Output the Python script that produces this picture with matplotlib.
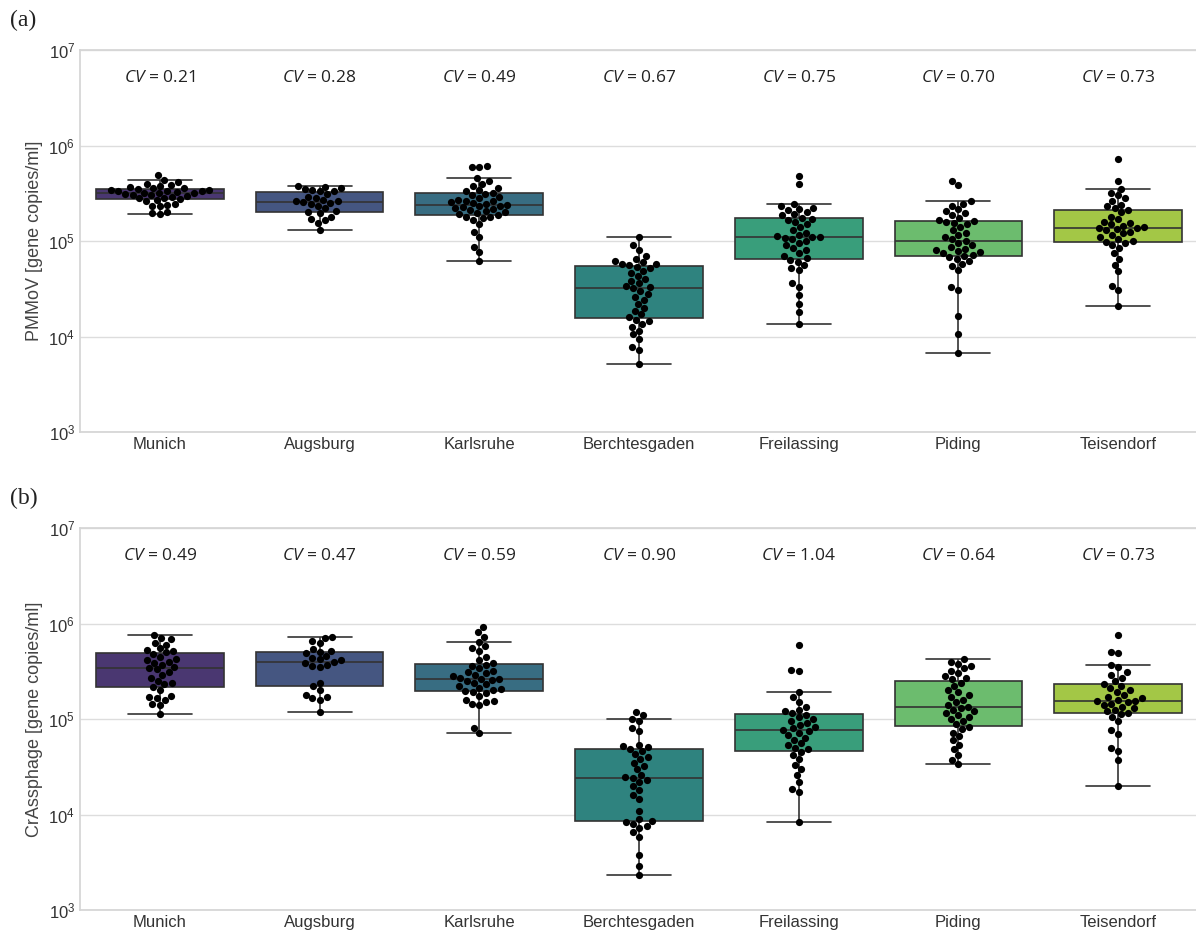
import matplotlib
matplotlib.use("Agg")
import matplotlib.pyplot as plt
import numpy as np
import pandas as pd
import seaborn as sns

cities = ['Munich', 'Augsburg', 'Karlsruhe', 'Berchtesgaden', 'Freilassing', 'Piding', 'Teisendorf']

# (a) PMMoV, gene copies/ml
pmmov_munich = [1.9e5, 1.95e5, 2.0e5, 2.3e5, 2.35e5, 2.4e5, 2.45e5, 2.6e5, 2.7e5, 2.75e5, 2.8e5, 2.85e5,
                2.9e5, 2.95e5, 3.0e5, 3.05e5, 3.1e5, 3.15e5, 3.2e5, 3.2e5, 3.25e5, 3.3e5, 3.3e5, 3.35e5,
                3.4e5, 3.45e5, 3.5e5, 3.55e5, 3.6e5, 3.7e5, 3.8e5, 3.9e5, 4.0e5, 4.1e5, 4.4e5, 4.9e5]
pmmov_augsburg = [1.31e5, 1.55e5, 1.65e5, 1.7e5, 1.8e5, 1.95e5, 2.0e5, 2.05e5, 2.2e5, 2.35e5, 2.45e5, 2.5e5,
                  2.55e5, 2.6e5, 2.65e5, 2.7e5, 2.8e5, 2.9e5, 3.1e5, 3.3e5, 3.35e5, 3.4e5, 3.5e5, 3.6e5,
                  3.7e5, 3.8e5]
pmmov_karlsruhe = [6.2e4, 7.6e4, 8.6e4, 1.1e5, 1.25e5, 1.5e5, 1.65e5, 1.75e5, 1.78e5, 1.8e5, 1.85e5, 1.9e5,
                   1.95e5, 2.0e5, 2.05e5, 2.1e5, 2.15e5, 2.2e5, 2.25e5, 2.3e5, 2.35e5, 2.4e5, 2.45e5, 2.5e5,
                   2.55e5, 2.6e5, 2.65e5, 2.7e5, 2.8e5, 2.9e5, 3.0e5, 3.1e5, 3.2e5, 3.3e5, 3.4e5, 3.6e5,
                   3.8e5, 4.0e5, 4.3e5, 4.55e5, 5.9e5, 6.0e5, 6.1e5]
pmmov_berchtesgaden = [5.1e3, 7.2e3, 7.8e3, 9.5e3, 1.05e4, 1.15e4, 1.25e4, 1.35e4, 1.45e4, 1.5e4, 1.6e4, 1.7e4,
                       1.85e4, 2.0e4, 2.2e4, 2.4e4, 2.6e4, 2.8e4, 3.0e4, 3.2e4, 3.3e4, 3.4e4, 3.6e4, 3.8e4,
                       4.0e4, 4.3e4, 4.6e4, 4.9e4, 5.2e4, 5.4e4, 5.6e4, 5.7e4, 5.8e4, 6.0e4, 6.2e4, 6.5e4,
                       7.0e4, 8.0e4, 9.0e4, 1.09e5]
pmmov_freilassing = [1.35e4, 1.8e4, 2.2e4, 2.7e4, 3.3e4, 3.6e4, 5.0e4, 5.2e4, 5.6e4, 6.0e4, 6.3e4, 6.6e4,
                     7.0e4, 7.5e4, 8.0e4, 8.5e4, 9.0e4, 9.6e4, 1.0e5, 1.04e5, 1.08e5, 1.1e5, 1.1e5, 1.12e5,
                     1.15e5, 1.2e5, 1.3e5, 1.4e5, 1.5e5, 1.6e5, 1.65e5, 1.7e5, 1.75e5, 1.85e5, 1.9e5, 2.0e5,
                     2.1e5, 2.15e5, 2.2e5, 2.3e5, 2.45e5, 3.95e5, 4.8e5]
pmmov_piding = [6.7e3, 1.05e4, 1.65e4, 3.1e4, 3.3e4, 5.0e4, 5.5e4, 5.8e4, 6.2e4, 6.5e4, 6.8e4, 7.0e4,
                7.2e4, 7.4e4, 7.6e4, 7.8e4, 8.0e4, 8.3e4, 8.6e4, 9.0e4, 9.5e4, 1.0e5, 1.05e5, 1.1e5,
                1.15e5, 1.2e5, 1.3e5, 1.4e5, 1.5e5, 1.55e5, 1.6e5, 1.62e5, 1.65e5, 1.75e5, 1.85e5, 1.95e5,
                2.05e5, 2.15e5, 2.3e5, 2.45e5, 2.6e5, 3.9e5, 4.3e5]
pmmov_teisendorf = [2.1e4, 3.1e4, 3.4e4, 4.8e4, 5.6e4, 6.5e4, 7.5e4, 8.5e4, 9.0e4, 9.5e4, 9.8e4, 1.0e5,
                    1.05e5, 1.1e5, 1.15e5, 1.2e5, 1.25e5, 1.3e5, 1.33e5, 1.36e5, 1.38e5, 1.4e5, 1.45e5, 1.5e5,
                    1.55e5, 1.6e5, 1.7e5, 1.8e5, 2.0e5, 2.1e5, 2.2e5, 2.3e5, 2.4e5, 2.6e5, 2.8e5, 3.0e5,
                    3.2e5, 3.5e5, 4.3e5, 7.2e5]

# (b) CrAssphage, gene copies/ml
crass_munich = [1.13e5, 1.4e5, 1.45e5, 1.6e5, 1.65e5, 1.7e5, 1.75e5, 2.0e5, 2.15e5, 2.3e5, 2.4e5, 2.5e5,
                2.7e5, 2.9e5, 3.1e5, 3.3e5, 3.4e5, 3.5e5, 3.7e5, 3.9e5, 4.0e5, 4.1e5, 4.3e5, 4.5e5,
                4.8e5, 5.0e5, 5.2e5, 5.3e5, 5.5e5, 6.0e5, 6.3e5, 6.8e5, 7.0e5, 7.6e5]
crass_augsburg = [1.17e5, 1.6e5, 1.65e5, 1.7e5, 1.8e5, 2.0e5, 2.2e5, 2.4e5, 3.5e5, 3.6e5, 3.7e5, 3.9e5,
                  4.0e5, 4.1e5, 4.2e5, 4.4e5, 4.6e5, 4.9e5, 5.0e5, 5.2e5, 5.4e5, 6.2e5, 6.5e5, 7.0e5, 7.3e5]
crass_karlsruhe = [7.1e4, 8.0e4, 1.4e5, 1.45e5, 1.5e5, 1.55e5, 1.6e5, 1.75e5, 1.85e5, 1.9e5, 1.97e5, 2.0e5,
                   2.05e5, 2.1e5, 2.2e5, 2.3e5, 2.4e5, 2.5e5, 2.55e5, 2.6e5, 2.63e5, 2.7e5, 2.8e5, 2.9e5,
                   3.0e5, 3.1e5, 3.2e5, 3.4e5, 3.6e5, 3.7e5, 3.9e5, 4.1e5, 4.5e5, 5.2e5, 5.5e5, 5.8e5,
                   6.4e5, 7.3e5, 8.1e5, 9.1e5]
crass_berchtesgaden = [2.35e3, 2.9e3, 3.8e3, 5.8e3, 6.5e3, 7.2e3, 7.6e3, 8.0e3, 8.3e3, 8.5e3, 9.0e3, 1.1e4,
                       1.45e4, 1.6e4, 1.8e4, 2.0e4, 2.2e4, 2.3e4, 2.4e4, 2.45e4, 2.6e4, 3.0e4, 3.2e4, 3.5e4,
                       3.8e4, 4.0e4, 4.3e4, 4.6e4, 4.9e4, 5.1e4, 5.2e4, 5.4e4, 7.5e4, 8.0e4, 9.5e4, 1.0e5,
                       1.1e5, 1.17e5]
crass_freilassing = [8.4e3, 1.7e4, 1.85e4, 2.2e4, 2.6e4, 3.0e4, 3.3e4, 3.8e4, 4.2e4, 4.5e4, 4.8e4, 5.0e4,
                     5.3e4, 5.6e4, 6.0e4, 6.4e4, 6.8e4, 7.2e4, 7.5e4, 7.7e4, 8.0e4, 8.3e4, 8.6e4, 9.0e4,
                     9.5e4, 1.0e5, 1.05e5, 1.1e5, 1.15e5, 1.2e5, 1.25e5, 1.35e5, 1.5e5, 1.7e5, 1.94e5, 3.15e5,
                     3.25e5, 6.0e5]
crass_piding = [3.4e4, 3.7e4, 4.2e4, 4.8e4, 5.4e4, 6.0e4, 6.6e4, 7.2e4, 7.8e4, 8.2e4, 8.8e4, 9.5e4,
                1.0e5, 1.05e5, 1.1e5, 1.15e5, 1.2e5, 1.25e5, 1.3e5, 1.34e5, 1.4e5, 1.5e5, 1.6e5, 1.7e5,
                1.8e5, 1.9e5, 2.0e5, 2.2e5, 2.4e5, 2.6e5, 2.7e5, 2.8e5, 3.0e5, 3.2e5, 3.4e5, 3.6e5,
                3.8e5, 4.0e5, 4.2e5]
crass_teisendorf = [2.0e4, 3.7e4, 4.6e4, 5.0e4, 7.0e4, 7.6e4, 9.5e4, 1.05e5, 1.12e5, 1.16e5, 1.2e5, 1.25e5,
                    1.3e5, 1.35e5, 1.4e5, 1.45e5, 1.5e5, 1.55e5, 1.55e5, 1.6e5, 1.65e5, 1.7e5, 1.8e5, 1.9e5,
                    2.0e5, 2.1e5, 2.2e5, 2.3e5, 2.5e5, 2.7e5, 2.9e5, 3.1e5, 3.5e5, 3.7e5, 4.9e5, 5.05e5,
                    7.5e5]

cv_pmmov = ['0.21', '0.28', '0.49', '0.67', '0.75', '0.70', '0.73']
cv_crass = ['0.49', '0.47', '0.59', '0.90', '1.04', '0.64', '0.73']

pmmov = [pmmov_munich, pmmov_augsburg, pmmov_karlsruhe, pmmov_berchtesgaden,
         pmmov_freilassing, pmmov_piding, pmmov_teisendorf]
crass = [crass_munich, crass_augsburg, crass_karlsruhe, crass_berchtesgaden,
         crass_freilassing, crass_piding, crass_teisendorf]


def to_frame(groups):
    rows = []
    for city, vals in zip(cities, groups):
        for v in vals:
            rows.append((city, v))
    return pd.DataFrame(rows, columns=['site', 'value'])


sns.set_theme(style='whitegrid')
plt.rcParams['font.family'] = ['Liberation Sans', 'DejaVu Sans']
plt.rcParams['mathtext.fontset'] = 'custom'
plt.rcParams['mathtext.it'] = 'Open Sans:italic'
plt.rcParams['mathtext.rm'] = 'Liberation Sans'

fig = plt.figure(figsize=(11.96, 9.36), dpi=100)
ax_a = fig.add_axes([80 / 1196, 504 / 936, 1118 / 1196, 382 / 936])
ax_b = fig.add_axes([80 / 1196, 26 / 936, 1118 / 1196, 382 / 936])

palette = sns.color_palette('viridis', len(cities))

for ax, groups, cvs, ylabel, tag in [(ax_a, pmmov, cv_pmmov, 'PMMoV [gene copies/ml]', '(a)'),
                                     (ax_b, crass, cv_crass, 'CrAssphage [gene copies/ml]', '(b)')]:
    df = to_frame(groups)
    # box statistics on the linear values, axis switched to log afterwards
    sns.boxplot(data=df, x='site', y='value', hue='site', order=cities, hue_order=cities,
                palette=palette, legend=False, showfliers=False, linewidth=1.2,
                linecolor='#333333', ax=ax)
    ax.set_yscale('log')
    sns.swarmplot(data=df, x='site', y='value', order=cities, color='black', size=5.2, ax=ax)
    ax.set_ylim(1e3, 1e7)
    ax.set_xlim(-0.5, 6.5)
    ax.set_xlabel('')
    ax.set_ylabel(ylabel, fontsize=13, color='#444444')
    ax.tick_params(axis='both', labelsize=12, colors='#333333', length=0)
    ax.xaxis.grid(False)
    ax.yaxis.grid(True, color='#dddddd', linewidth=1)
    for s in ax.spines.values():
        s.set_color('#d5d5d5')
    for i, cv in enumerate(cvs):
        ax.text(i, 5.1e6, r'$\mathit{CV}$ = ' + cv, ha='center', va='center',
                fontsize=12.5, family=['Open Sans', 'DejaVu Sans'], color='#222222')
    bb = ax.get_position()
    fig.text(10 / 1196, bb.y1 + 30 / 936, tag, fontsize=17, family='Liberation Serif',
             ha='left', va='center', color='#222222')

fig.savefig('out.png', dpi=100)
